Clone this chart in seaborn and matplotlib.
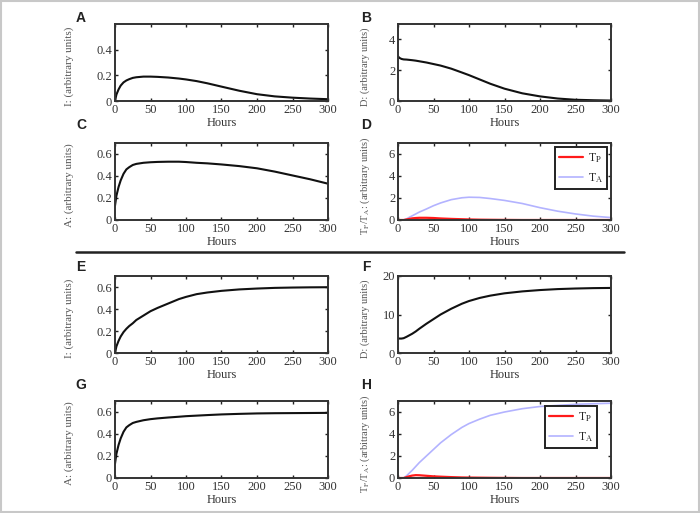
import numpy as np
import pandas as pd
import matplotlib
matplotlib.use("Agg")
import matplotlib.pyplot as plt
import seaborn as sns
from matplotlib.patches import Rectangle
from matplotlib.lines import Line2D

# sample times (hours)
hours = [0, 2, 5, 8, 12, 16, 20, 25, 30, 40, 50, 60, 75, 90, 100, 115, 130, 150,
         175, 200, 225, 250, 275, 300]

# top half (A-D)
i_top = [0.0, 0.05, 0.09, 0.12, 0.145, 0.16, 0.17, 0.18, 0.185, 0.19, 0.19, 0.188,
         0.183, 0.175, 0.168, 0.155, 0.138, 0.112, 0.08, 0.053, 0.036, 0.026, 0.019, 0.014]
d_top = [2.9, 2.8, 2.73, 2.7, 2.69, 2.67, 2.65, 2.62, 2.58, 2.5, 2.4, 2.3, 2.1, 1.85,
         1.68, 1.4, 1.12, 0.8, 0.5, 0.3, 0.16, 0.08, 0.05, 0.03]
a_top = [0.13, 0.22, 0.3, 0.36, 0.42, 0.46, 0.48, 0.5, 0.51, 0.52, 0.525, 0.528, 0.53,
         0.53, 0.527, 0.52, 0.515, 0.505, 0.49, 0.47, 0.44, 0.405, 0.37, 0.33]
tp_top = [0.0, 0.0, 0.0, 0.0, 0.05, 0.1, 0.15, 0.18, 0.2, 0.2, 0.18, 0.14, 0.1, 0.07,
          0.05, 0.03, 0.02, 0.01, 0.0, 0.0, 0.0, 0.0, 0.0, 0.0]
ta_top = [0.0, 0.0, 0.0, 0.0, 0.1, 0.25, 0.38, 0.55, 0.72, 1.0, 1.3, 1.55, 1.85, 2.02,
          2.07, 2.05, 1.95, 1.78, 1.5, 1.12, 0.8, 0.55, 0.35, 0.22]

# bottom half (E-H)
i_bot = [0.0, 0.06, 0.11, 0.15, 0.19, 0.22, 0.245, 0.27, 0.3, 0.34, 0.38, 0.41, 0.45,
         0.49, 0.51, 0.535, 0.55, 0.565, 0.578, 0.586, 0.592, 0.595, 0.597, 0.598]
d_bot = [3.8, 3.75, 3.75, 3.85, 4.2, 4.6, 5.0, 5.6, 6.3, 7.6, 8.8, 10.0, 11.5, 12.8,
         13.5, 14.3, 14.9, 15.5, 16.0, 16.35, 16.6, 16.75, 16.85, 16.9]
a_bot = [0.13, 0.22, 0.3, 0.36, 0.42, 0.46, 0.48, 0.5, 0.51, 0.525, 0.535, 0.542, 0.55,
         0.557, 0.562, 0.567, 0.572, 0.578, 0.583, 0.587, 0.589, 0.59, 0.591, 0.592]
tp_bot = [0.0, 0.0, 0.0, 0.0, 0.08, 0.16, 0.22, 0.26, 0.25, 0.2, 0.15, 0.12, 0.08, 0.05,
          0.04, 0.03, 0.02, 0.01, 0.0, 0.0, 0.0, 0.0, 0.0, 0.0]
ta_bot = [0.0, 0.0, 0.0, 0.0, 0.2, 0.45, 0.7, 1.05, 1.4, 2.0, 2.6, 3.2, 3.95, 4.6, 4.95,
          5.35, 5.7, 6.0, 6.3, 6.5, 6.6, 6.7, 6.75, 6.8]

sns.set_theme(style="white")
plt.rcParams["font.family"] = ["Liberation Serif", "DejaVu Serif"]
plt.rcParams["mathtext.fontset"] = "stix"

fig = plt.figure(figsize=(7.0, 5.13), dpi=100)
W, H = 700.0, 513.0

def make_ax(x0, y_top, y_bot, x1):
    return fig.add_axes([x0 / W, 1 - y_bot / H, (x1 - x0) / W, (y_bot - y_top) / H])

def style(ax, ylim, yticks, ylabel, letter, lx, ly, ylab_x, ylab_size=8):
    ax.set_xlim(0, 300)
    ax.set_ylim(*ylim)
    ax.set_xticks([0, 50, 100, 150, 200, 250, 300])
    ax.set_yticks(yticks)
    ax.set_yticklabels([f"{t:g}" for t in yticks])
    ax.tick_params(direction="in", length=2.5, width=1, top=True, right=True,
                   bottom=True, left=True, labelsize=9, pad=2, colors="#222222",
                   labelcolor="#333333")
    for s in ax.spines.values():
        s.set_color("#333333")
        s.set_linewidth(1.4)
        s.set_visible(True)
    ax.set_xlabel("Hours", fontsize=9, color="#333333", labelpad=1)
    ax.set_ylabel(ylabel, fontsize=ylab_size, color="#555555", va="center")
    ax.yaxis.set_label_coords(ylab_x, 0.45)
    fig.text(lx / W, 1 - ly / H, letter, fontsize=10, fontweight="bold",
             family="Liberation Sans", ha="center", va="center", color="#222222")

def draw(ax, y):
    sns.lineplot(x=hours, y=y, ax=ax, color="#111111", linewidth=1.5)

def draw_t(ax, tp, ta, anchor):
    sns.lineplot(x=hours, y=ta, ax=ax, color="#b3b3ff", linewidth=1.2, legend=False)
    sns.lineplot(x=hours, y=tp, ax=ax, color="#ff1a1a", linewidth=1.6, legend=False)
    handles = [Line2D([], [], color="#ff1a1a", lw=1.6), Line2D([], [], color="#b3b3ff", lw=1.2)]
    leg = ax.legend(handles, [r"T$_\mathrm{P}$", r"T$_\mathrm{A}$"], loc="upper right",
                    bbox_to_anchor=anchor, fontsize=8.5, frameon=True, fancybox=False,
                    handlelength=2.0, borderpad=0.35, labelspacing=0.55,
                    handletextpad=0.4, borderaxespad=0.0)
    leg.get_frame().set_edgecolor("#222222")
    leg.get_frame().set_linewidth(1.4)
    leg.get_frame().set_alpha(1)

lx_l, lx_r = 115, 398
rx_l, rx_r = 328, 611
left_lab = (69 - 115) / 213.0
right_lab = (365 - 398) / 213.0

axA = make_ax(lx_l, 24, 101, rx_l)
draw(axA, i_top)
style(axA, (0, 0.6), [0, 0.2, 0.4], "I: (arbitrary units)", "A", 81, 18, left_lab)

axB = make_ax(lx_r, 24, 101, rx_r)
draw(axB, d_top)
style(axB, (0, 5), [0, 2, 4], "D: (arbitrary units)", "B", 366, 18, right_lab, 7.5)

axC = make_ax(lx_l, 143, 220, rx_l)
draw(axC, a_top)
style(axC, (0, 0.7), [0, 0.2, 0.4, 0.6], "A: (arbitrary units)", "C", 81, 125, left_lab)

axD = make_ax(lx_r, 143, 220, rx_r)
draw_t(axD, tp_top, ta_top, ((607 - 398) / 213.0, 1 - (147 - 143) / 77.0))
style(axD, (0, 7), [0, 2, 4, 6], r"T$_\mathrm{P}$/T$_\mathrm{A}$: (arbitrary units)",
      "D", 366, 125, right_lab, 7.5)

axE = make_ax(lx_l, 276, 353, rx_l)
draw(axE, i_bot)
style(axE, (0, 0.7), [0, 0.2, 0.4, 0.6], "I: (arbitrary units)", "E", 81, 267, left_lab)

axF = make_ax(lx_r, 276, 353, rx_r)
draw(axF, d_bot)
style(axF, (0, 20), [0, 10, 20], "D: (arbitrary units)", "F", 366, 267, right_lab, 7.5)

axG = make_ax(lx_l, 401, 478, rx_l)
draw(axG, a_bot)
style(axG, (0, 0.7), [0, 0.2, 0.4, 0.6], "A: (arbitrary units)", "G", 81, 385, left_lab)

axH = make_ax(lx_r, 401, 478, rx_r)
draw_t(axH, tp_bot, ta_bot, ((597 - 398) / 213.0, 1 - (406 - 401) / 77.0))
style(axH, (0, 7), [0, 2, 4, 6], r"T$_\mathrm{P}$/T$_\mathrm{A}$: (arbitrary units)",
      "H", 366, 385, right_lab, 7.5)

# separator line between the two halves
fig.add_artist(Line2D([76 / W, 624 / W], [1 - 252 / H, 1 - 252 / H], color="#222222", lw=1.8))
# light grey frame around the figure
fig.add_artist(Rectangle((0.002, 0.002), 0.996, 0.996, transform=fig.transFigure,
                         fill=False, edgecolor="#c8c8c8", lw=1.5))

fig.savefig("out.png", dpi=100)
